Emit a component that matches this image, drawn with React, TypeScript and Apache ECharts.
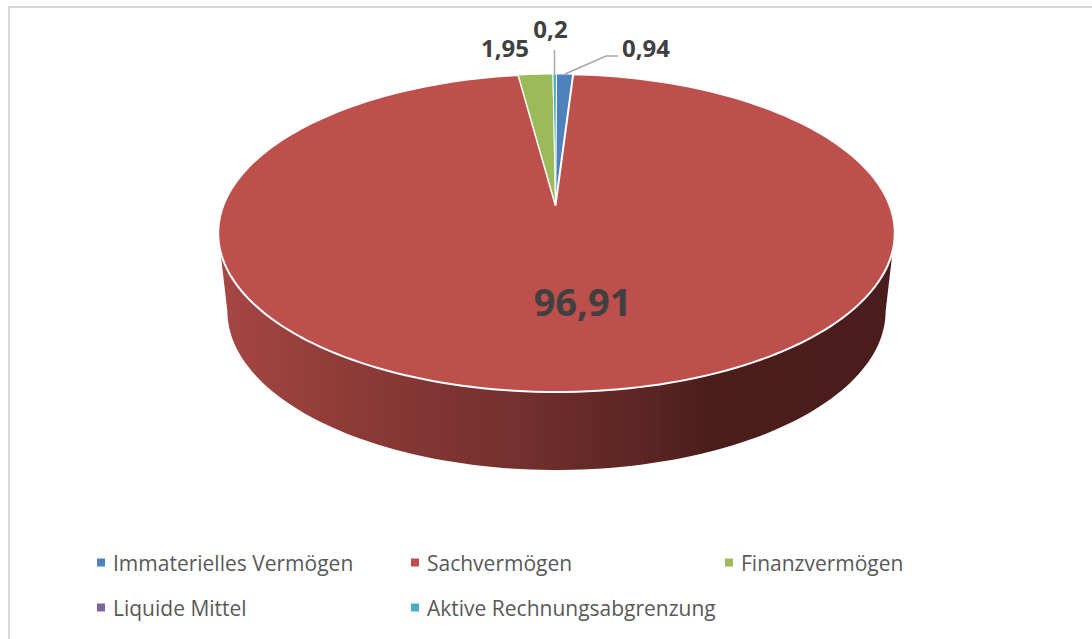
import React, { useEffect, useRef } from "react";
import * as echarts from "echarts";

const categories = ["Immaterielles Vermögen", "Sachvermögen", "Finanzvermögen", "Liquide Mittel", "Aktive Rechnungsabgrenzung"];
const values = [0.94, 96.91, 1.95, 0, 0.2];
const colors = ["#4f81bd", "#bd4f4c", "#9bbb59", "#8064a2", "#4bacc6"];
const valueLabels = ["0,94", "96,91", "1,95", "", "0,2"];

const CX = 556.5;
const K = 333;
const C = 0.176;
const A = -118;
const B = 205;
const SILHOUETTE = 100.1;

function project(deg: number, bottom = false): number[] {
  const t = (deg * Math.PI) / 180;
  const u = Math.sin(t);
  const v = Math.cos(t);
  const d = C * v + 1;
  const x = (K * u) / d;
  const y = (A * v + B) / d;
  return bottom ? [CX + x * 0.973, y + 78] : [CX + x, y];
}

function range(from: number, to: number): number[] {
  const n = Math.max(2, Math.ceil(Math.abs(to - from) / 1.5));
  const out: number[] = [];
  for (let i = 0; i <= n; i++) out.push(from + ((to - from) * i) / n);
  return out;
}

const total = values.reduce((a, b) => a + b, 0);
function startAngle(i: number): number {
  return (values.slice(0, i).reduce((a, b) => a + b, 0) / total) * 360;
}

const labelPos: Record<number, { x: number; y: number; size: number; line?: number[][] }> = {
  0: { x: 646, y: 47, size: 24, line: [[565, 74], [606, 56], [618, 56]] },
  1: { x: 582.5, y: 301, size: 38 },
  2: { x: 505, y: 47, size: 24 },
  4: { x: 550.5, y: 28, size: 24, line: [[554.5, 74], [554.5, 50]] },
};

const legendPos = [
  { left: 97, top: 552 },
  { left: 411, top: 552 },
  { left: 725, top: 552 },
  { left: 97, top: 597 },
  { left: 411, top: 597 },
];

function makeRender(i: number) {
  return (_p: any, api: any) => {
    const val = api.value(0);
    const children: any[] = [];
    if (i === 1) {
      const topEdge = range(SILHOUETTE, 360 - SILHOUETTE).map((a) => project(a));
      const bottomEdge = range(360 - SILHOUETTE, SILHOUETTE).map((a) => project(a, true));
      children.push({
        type: "polygon",
        z2: 1,
        shape: { points: topEdge.concat(bottomEdge) },
        style: {
          fill: new echarts.graphic.LinearGradient(0, 0, 1, 0, [
            { offset: 0, color: "#a64744" },
            { offset: 0.12, color: "#973f3c" },
            { offset: 0.27, color: "#853734" },
            { offset: 0.44, color: "#73302e" },
            { offset: 0.64, color: "#5a2422" },
            { offset: 0.72, color: "#4b1e1c" },
            { offset: 1, color: "#4a1d1c" },
          ]),
        },
      });
    }
    if (val > 0) {
      const s = startAngle(i);
      const e = s + (val / total) * 360;
      children.push({
        type: "polygon",
        z2: 2,
        shape: { points: [[CX - 1, B]].concat(range(s, e).map((a) => project(a))) },
        style: { fill: colors[i], stroke: "#ffffff", lineWidth: i === 1 ? 2 : 1, lineJoin: "round" },
      });
      const pos = labelPos[i];
      if (pos && pos.line) {
        children.push({
          type: "polyline",
          z2: 3,
          shape: { points: pos.line },
          style: { fill: "none", stroke: "#a6a6a6", lineWidth: 1.5 },
        });
      }
      if (pos) {
        children.push({
          type: "text",
          z2: 4,
          x: pos.x,
          y: pos.y,
          style: {
            text: valueLabels[i],
            fill: "#404040",
            font: `bold ${pos.size}px "Open Sans", sans-serif`,
            align: "center",
            verticalAlign: "middle",
          },
        });
      }
    }
    return { type: "group", children };
  };
}

export default function App() {
  const ref = useRef<HTMLDivElement>(null);
  useEffect(() => {
    const chart = echarts.init(ref.current!, undefined, { renderer: "svg" });
    chart.setOption({
      animation: false,
      backgroundColor: "#ffffff",
      graphic: [
        {
          type: "rect",
          silent: true,
          shape: { x: 9, y: 7, width: 1100, height: 650 },
          style: { fill: "none", stroke: "#d9d9d9", lineWidth: 2 },
        },
      ],
      legend: categories.map((name, i) => ({
        data: [name],
        left: legendPos[i].left,
        top: legendPos[i].top,
        icon: "rect",
        itemWidth: 8,
        itemHeight: 8,
        itemGap: 0,
        padding: 0,
        selectedMode: false,
        textStyle: { color: "#595959", fontSize: 21, fontFamily: '"Open Sans", sans-serif', padding: [0, 0, 0, 3] },
      })),
      series: categories.map((name, i) => ({
        type: "custom",
        name,
        coordinateSystem: "none",
        itemStyle: { color: colors[i] },
        data: [[values[i]]],
        renderItem: makeRender(i),
      })),
    });
    return () => chart.dispose();
  }, []);
  return <div ref={ref} style={{ position: "fixed", left: 0, top: 0, width: 1092, height: 639 }} />;
}
